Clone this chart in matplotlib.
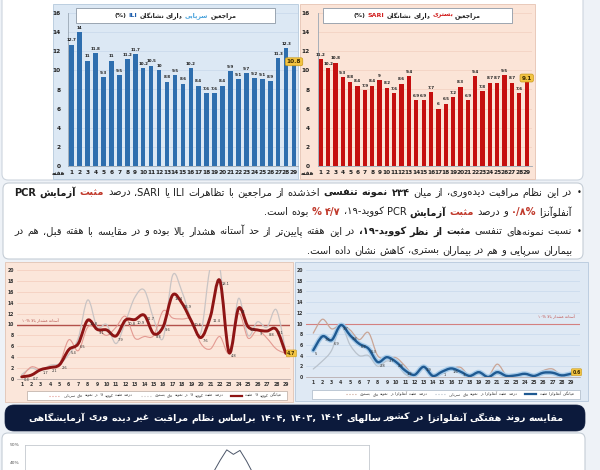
import re
import numpy as np
import matplotlib
matplotlib.use('Agg')
import matplotlib.pyplot as plt
from matplotlib.patches import Rectangle, FancyBboxPatch, PathPatch
from matplotlib.path import Path
from matplotlib.transforms import Affine2D
from matplotlib.lines import Line2D

plt.rcParams['font.family'] = ['DejaVu Sans']

# ---------------- data ----------------
weeks = list(range(1, 30))
ili_values = [12.7, 14, 11, 11.8, 9.3, 11, 9.5, 11.2, 11.7, 10.2, 10.5, 10, 8.8, 9.5, 8.6,
              10.2, 8.4, 7.6, 7.6, 8.4, 9.9, 9.1, 9.7, 9.2, 9.1, 8.9, 11.3, 12.3, 10.8]
sari_values = [11.2, 10.2, 10.8, 9.3, 8.8, 8.4, 7.9, 8.4, 9, 8.2, 7.6, 8.6, 9.4, 6.9, 6.9,
               7.7, 6.0, 6.5, 7.2, 8.3, 6.9, 9.4, 7.8, 8.7, 8.7, 9.5, 8.7, 7.6, 9.1]
bar_yticks = [0, 2, 4, 6, 8, 10, 12, 14, 16]

covid_avg = [0.4, 0.7, 1.7, 2.1, 2.6, 5.4, 6.5, 10.8, 9.1, 9.0, 7.9, 10.8, 10.9, 11.7, 8.3,
             9.6, 15.4, 13.9, 10.6, 7.6, 11.4, 18.1, 4.8, 13.0, 9.6, 9.0, 8.8, 9.1, 4.7]
covid_sari = [0.8, 2.0, 1.5, 2.5, 2.8, 4.5, 7.5, 14.5, 9.5, 10.0, 6.5, 10.5, 15.0, 16.3, 11.0,
              7.5, 19.0, 16.0, 10.8, 8.5, 20.5, 20.5, 5.0, 14.8, 8.0, 10.5, 9.5, 12.7, 5.0]
covid_ili = [0.3, 2.2, 1.8, 2.2, 2.8, 7.2, 5.2, 9.5, 9.2, 8.0, 9.5, 11.5, 7.5, 7.8, 8.0,
             12.5, 11.2, 11.0, 10.8, 6.5, 5.5, 7.8, 4.8, 12.0, 7.5, 9.0, 7.5, 5.5, 4.7]

flu_avg = [5.0, 7.6, 6.9, 9.7, 7.8, 6.2, 5.3, 2.8, 3.7, 2.8, 1.2, 0.4, 1.9, 0.2, 1.0,
           1.6, 1.0, 0.2, 0.9, 0.0, 0.9, 0.2, 0.3, 0.6, 0.2, 0.8, 0.8, 0.3, 0.6]
flu_sari = [8.2, 10.8, 9.0, 9.8, 8.8, 7.0, 8.3, 4.0, 3.5, 3.6, 2.0, 0.2, 2.0, 0.2, 0.8,
            1.5, 1.8, 0.2, 0.8, 0.1, 2.4, 0.3, 0.2, 0.8, 0.2, 1.2, 1.5, 0.3, 0.6]
flu_ili = [1.5, 3.0, 5.0, 9.5, 6.0, 4.0, 4.0, 2.0, 3.0, 2.5, 0.5, 0.0, 1.5, 0.1, 0.6,
           1.4, 0.8, 0.1, 0.6, 0.0, 0.5, 0.1, 0.2, 0.4, 0.1, 0.5, 0.5, 0.2, 0.5]
line_yticks = [0, 2, 4, 6, 8, 10, 12, 14, 16, 18, 20]
threshold = 10

trend_weeks = [27, 28, 29, 30, 31, 32, 33, 34, 35, 36]
trend_1404 = [26, 31, 35, 41.5, 47.3, 44.8, 47.0, 41.0, 34, 28]
trend_yticks = [40, 50]
trend_ylabels = ['40%', '50%']

# ---------------- persian shaping ----------------
FORMS = {
    '\u0621': ('\uFE80',),
    '\u0622': ('\uFE81', '\uFE82'), '\u0623': ('\uFE83', '\uFE84'),
    '\u0624': ('\uFE85', '\uFE86'), '\u0625': ('\uFE87', '\uFE88'),
    '\u0626': ('\uFE89', '\uFE8A', '\uFE8B', '\uFE8C'),
    '\u0627': ('\uFE8D', '\uFE8E'),
    '\u0628': ('\uFE8F', '\uFE90', '\uFE91', '\uFE92'),
    '\u0629': ('\uFE93', '\uFE94'),
    '\u062A': ('\uFE95', '\uFE96', '\uFE97', '\uFE98'),
    '\u062B': ('\uFE99', '\uFE9A', '\uFE9B', '\uFE9C'),
    '\u062C': ('\uFE9D', '\uFE9E', '\uFE9F', '\uFEA0'),
    '\u062D': ('\uFEA1', '\uFEA2', '\uFEA3', '\uFEA4'),
    '\u062E': ('\uFEA5', '\uFEA6', '\uFEA7', '\uFEA8'),
    '\u062F': ('\uFEA9', '\uFEAA'), '\u0630': ('\uFEAB', '\uFEAC'),
    '\u0631': ('\uFEAD', '\uFEAE'), '\u0632': ('\uFEAF', '\uFEB0'),
    '\u0633': ('\uFEB1', '\uFEB2', '\uFEB3', '\uFEB4'),
    '\u0634': ('\uFEB5', '\uFEB6', '\uFEB7', '\uFEB8'),
    '\u0635': ('\uFEB9', '\uFEBA', '\uFEBB', '\uFEBC'),
    '\u0636': ('\uFEBD', '\uFEBE', '\uFEBF', '\uFEC0'),
    '\u0637': ('\uFEC1', '\uFEC2', '\uFEC3', '\uFEC4'),
    '\u0638': ('\uFEC5', '\uFEC6', '\uFEC7', '\uFEC8'),
    '\u0639': ('\uFEC9', '\uFECA', '\uFECB', '\uFECC'),
    '\u063A': ('\uFECD', '\uFECE', '\uFECF', '\uFED0'),
    '\u0641': ('\uFED1', '\uFED2', '\uFED3', '\uFED4'),
    '\u0642': ('\uFED5', '\uFED6', '\uFED7', '\uFED8'),
    '\u0643': ('\uFED9', '\uFEDA', '\uFEDB', '\uFEDC'),
    '\u0644': ('\uFEDD', '\uFEDE', '\uFEDF', '\uFEE0'),
    '\u0645': ('\uFEE1', '\uFEE2', '\uFEE3', '\uFEE4'),
    '\u0646': ('\uFEE5', '\uFEE6', '\uFEE7', '\uFEE8'),
    '\u0647': ('\uFEE9', '\uFEEA', '\uFEEB', '\uFEEC'),
    '\u0648': ('\uFEED', '\uFEEE'),
    '\u0649': ('\uFEEF', '\uFEF0'),
    '\u064A': ('\uFEF1', '\uFEF2', '\uFEF3', '\uFEF4'),
    '\u067E': ('\uFB56', '\uFB57', '\uFB58', '\uFB59'),
    '\u0686': ('\uFB7A', '\uFB7B', '\uFB7C', '\uFB7D'),
    '\u0698': ('\uFB8A', '\uFB8B'),
    '\u06A9': ('\uFB8E', '\uFB8F', '\uFB90', '\uFB91'),
    '\u06AF': ('\uFB92', '\uFB93', '\uFB94', '\uFB95'),
    '\u06CC': ('\uFBFC', '\uFBFD', '\uFBFE', '\uFBFF'),
}
LAMALEF = {'\u0627': ('\uFEFB', '\uFEFC'), '\u0622': ('\uFEF5', '\uFEF6'),
           '\u0623': ('\uFEF7', '\uFEF8'), '\u0625': ('\uFEF9', '\uFEFA')}
MIRROR = str.maketrans('()[]', ')(][')


def jtype(c):
    f = FORMS.get(c)
    if f is None:
        return None
    return {1: 'U', 2: 'R', 4: 'D'}[len(f)]


def shape(s):
    out = []
    n = len(s)
    i = 0
    while i < n:
        c = s[i]
        f = FORMS.get(c)
        if f is None:
            out.append(c)
            i += 1
            continue
        jp = i > 0 and jtype(s[i - 1]) == 'D' and len(f) > 1
        if c == '\u0644' and i + 1 < n and s[i + 1] in LAMALEF:
            iso, fin = LAMALEF[s[i + 1]]
            out.append(fin if jp else iso)
            i += 2
            continue
        jn = len(f) == 4 and i + 1 < n and jtype(s[i + 1]) in ('D', 'R')
        if len(f) == 1:
            out.append(f[0])
        elif jp and jn:
            out.append(f[3])
        elif jp:
            out.append(f[1])
        elif jn:
            out.append(f[2])
        else:
            out.append(f[0])
        i += 1
    return ''.join(ch for ch in out if ch != '\u200c')


LTR_RE = re.compile(r'[A-Za-z0-9\u06F0-\u06F9][A-Za-z0-9\u06F0-\u06F9/.%\-]*')


def visual(s):
    tokens = re.findall(r'[A-Za-z0-9\u06F0-\u06F9][A-Za-z0-9\u06F0-\u06F9/.%\-]*|[^A-Za-z0-9\u06F0-\u06F9]+', s)
    out = []
    for t in reversed(tokens):
        if LTR_RE.fullmatch(t):
            out.append(t)
        else:
            out.append(shape(t)[::-1].translate(MIRROR))
    return ''.join(out)


# ---------------- figure ----------------
W, H = 600, 470
fig = plt.figure(figsize=(6.0, 4.7), dpi=100)
fig.patch.set_facecolor('#eef2f7')
PX = Affine2D().scale(1, -1).translate(0, H)
renderer = fig.canvas.get_renderer()


def axpx(x, y, w, h):
    return fig.add_axes([x / W, 1 - (y + h) / H, w / W, h / H])


def rect(x, y, w, h, fc, ec='none', lw=0.6, r=0, z=-1):
    if r > 0:
        p = FancyBboxPatch((x, y), w, h, boxstyle=f"round,pad=0,rounding_size={r}",
                           fc=fc, ec=ec, lw=lw, transform=PX, zorder=z)
    else:
        p = Rectangle((x, y), w, h, fc=fc, ec=ec, lw=lw, transform=PX, zorder=z)
    fig.add_artist(p)
    return p


def hline_px(x1, x2, y, color, lw, ls='-', z=6):
    fig.add_artist(Line2D([x1, x2], [y, y], color=color, lw=lw, ls=ls, transform=PX, zorder=z))


def words_of(segs):
    res = []
    for s, w, c in segs:
        for wd in s.split(' '):
            if wd:
                res.append((wd, w, c))
    return res


def measure(segs, fs):
    ws = []
    for wd, w, c in words_of(segs):
        t = fig.text(0, 0, visual(wd), fontsize=fs, fontweight=w, transform=PX)
        ws.append(t.get_window_extent(renderer).width)
        t.remove()
    sp = fs * 100 / 72 * 0.32
    return sum(ws) + sp * (len(ws) - 1)


def place_rtl(segs, y, fs, xr=None, center=None, width=None, z=8):
    words = words_of(segs)
    ts, ws = [], []
    for wd, w, c in words:
        t = fig.text(0, y, visual(wd), fontsize=fs, fontweight=w, color=c,
                     transform=PX, ha='left', va='center', zorder=z)
        ts.append(t)
        ws.append(t.get_window_extent(renderer).width)
    sp = fs * 100 / 72 * 0.32
    total = sum(ws) + sp * (len(ws) - 1)
    if width is not None and len(ws) > 1:
        sp = (width - sum(ws)) / (len(ws) - 1)
        total = width
    if center is not None:
        xr = center + total / 2
    x = xr
    for t, w in zip(ts, ws):
        x -= w
        t.set_x(x)
        x -= sp
    return xr - total


def fit_fs(segs, target, fs0=10):
    return fs0 * target / measure(segs, fs0)


# ---------------- backgrounds / cards ----------------
rect(2, -10, 581, 190, '#ffffff', ec='#cdd5de', lw=0.8, r=6, z=-3)
rect(3, 183, 580, 76, '#ffffff', ec='#c5cdd6', lw=0.8, r=6, z=-3)
rect(2, 433, 583, 60, '#ffffff', ec='#c5cdd6', lw=0.8, r=6, z=-3)

rect(53, 4, 245, 175, '#dce8f4', ec='#b4c8dc', lw=0.6, z=-2)
rect(300, 4, 235, 175, '#fbe4d7', ec='#e6c3b2', lw=0.6, z=-2)
rect(5, 262, 288, 140, '#fbe6da', ec='#e2c4b4', lw=0.6, z=-2)
rect(295, 262, 293, 139, '#dfe9f4', ec='#b7c9dc', lw=0.6, z=-2)

DARK = '#1e1e1e'


# ---------------- top bar charts ----------------
def bar_chart(axrect, xlim, values, color, grid_color, pad_y, last_label):
    ax = axpx(*axrect)
    ax.set_facecolor('none')
    ax.bar(weeks, values, width=0.58, color=color, zorder=2)
    ax.set_xlim(*xlim)
    ax.set_ylim(0, 16)
    ax.set_yticks(bar_yticks)
    ax.set_xticks(weeks)
    ax.tick_params(length=0, labelsize=4.2, pad=3.2, colors='#222222')
    ax.tick_params(axis='y', pad=pad_y)
    for lab in ax.get_xticklabels() + ax.get_yticklabels():
        lab.set_fontweight('bold')
    for yv in bar_yticks[1:]:
        ax.axhline(yv, color=grid_color, lw=0.5, zorder=0)
    for s in ['top', 'right']:
        ax.spines[s].set_visible(False)
    for s in ['left', 'bottom']:
        ax.spines[s].set_color('#9aa7b4')
        ax.spines[s].set_linewidth(0.6)
    for wk, v in zip(weeks[:-1], values[:-1]):
        ax.text(wk, v + 0.25, f'{v:g}', ha='center', va='bottom', fontsize=2.9,
                fontweight='bold', color=DARK, zorder=3)
    ax.text(weeks[-1], values[-1] + 0.1, last_label, ha='center', va='center', fontsize=4.2,
            fontweight='bold', color='#3a2a00', zorder=4, clip_on=False,
            bbox=dict(boxstyle='round,pad=0.25,rounding_size=0.3', fc='#f3c442', ec='#c99a1a', lw=0.5))
    return ax


ax1 = bar_chart((68, 13, 230, 153), (0.53, 29.5), ili_values, '#2e6eae', '#c7d8ea', 5.2, '10.8')
ax2 = bar_chart((318, 13, 214, 153), (0.633, 29.72), sari_values, '#c50f0f', '#f2cfc0', 6.2, '9.1')

fig.text(58, 173.5, visual('هفته'), fontsize=4, fontweight='bold', color=DARK,
         transform=PX, ha='center', va='center', zorder=8)
fig.text(307, 173.5, visual('هفته'), fontsize=4, fontweight='bold', color=DARK,
         transform=PX, ha='center', va='center', zorder=8)

rect(76, 8, 199, 15, '#ffffff', ec='#8d99a6', lw=0.6, z=2)
rect(323, 8, 189, 15, '#ffffff', ec='#8d99a6', lw=0.6, z=2)
title_ili = [('مراجعین', 'bold', DARK), ('سرپایی', 'bold', '#4aa3dc'),
             ('دارای نشانگان', 'bold', DARK), ('ILI', 'bold', '#1f5fae'), ('(%)', 'bold', DARK)]
title_sari = [('مراجعین', 'bold', DARK), ('بستری', 'bold', '#d21f1f'),
              ('دارای نشانگان', 'bold', DARK), ('SARI', 'bold', '#d21f1f'), ('(%)', 'bold', DARK)]
fs_t = fit_fs(title_ili, 122)
place_rtl(title_ili, 15.5, fs_t, center=175.5)
place_rtl(title_sari, 15.5, fs_t, center=417.5)

# ---------------- bullet text ----------------
b1l1 = [('در این نظام مراقبت دیده\u200cوری، از میان', 'normal', DARK), ('۲۳۴ نمونه تنفسی', 'bold', DARK),
        ('اخذشده از مراجعین با تظاهرات ILI یا SARI، درصد', 'normal', DARK),
        ('مثبت', 'bold', '#c0392b'), ('آزمایش PCR', 'bold', DARK)]
b1l2 = [('آنفلوآنزا', 'normal', DARK), ('۰/۸%', 'bold', '#c0392b'), ('و درصد', 'normal', DARK),
        ('مثبت', 'bold', '#c0392b'), ('آزمایش', 'bold', DARK), ('PCR کووید-۱۹،', 'normal', DARK),
        ('۴/۷ %', 'bold', '#c0392b'), ('بوده است.', 'normal', DARK)]
b2l1 = [('نسبت نمونه\u200cهای تنفسی', 'normal', DARK), ('مثبت از نظر کووید-۱۹،', 'bold', DARK),
        ('در این هفته پایین\u200cتر از حد آستانه هشدار بالا بوده و در مقایسه با هفته قبل، هم در', 'normal', DARK)]
b2l2 = [('بیماران سرپایی و هم در بیماران بستری، کاهش نشان داده است.', 'normal', DARK)]

fs_b = min(fit_fs(b1l1, 548), fit_fs(b2l1, 548))
place_rtl(b1l1, 192.5, fs_b, xr=572, width=558)
place_rtl(b1l2, 212, fs_b, xr=572)
place_rtl(b2l1, 231.5, fs_b, xr=572, width=558)
place_rtl(b2l2, 250.5, fs_b, xr=572)
for yb in (192.5, 231.5):
    fig.text(579, yb, '•', fontsize=6, color=DARK, transform=PX, ha='center', va='center', zorder=8)


# ---------------- line charts ----------------
def smooth_path(x, y):
    pts = np.column_stack([x, y]).astype(float)
    n = len(pts)
    verts = [pts[0]]
    codes = [Path.MOVETO]
    for i in range(n - 1):
        p0 = pts[i - 1] if i > 0 else pts[i]
        p1, p2 = pts[i], pts[i + 1]
        p3 = pts[i + 2] if i + 2 < n else pts[i + 1]
        verts += [p1 + (p2 - p0) / 6, p2 - (p3 - p1) / 6, p2]
        codes += [Path.CURVE4] * 3
    return Path(verts, codes)


def smooth(ax, x, y, color, lw, z=3, alpha=1.0):
    ax.add_patch(PathPatch(smooth_path(x, y), fill=False, ec=color, lw=lw, zorder=z,
                           alpha=alpha, capstyle='round', joinstyle='round'))


def line_axes(axrect, xlim, grid_color):
    ax = axpx(*axrect)
    ax.set_facecolor('none')
    ax.set_xlim(*xlim)
    ax.set_ylim(0, 20)
    ax.set_yticks(line_yticks)
    ax.set_xticks(weeks)
    ax.tick_params(length=0, labelsize=3.3, pad=2.2, colors='#333333')
    for lab in ax.get_xticklabels() + ax.get_yticklabels():
        lab.set_fontweight('bold')
    for yv in line_yticks[1:]:
        ax.axhline(yv, color=grid_color, lw=0.5, zorder=0)
    for s in ['top', 'right', 'left']:
        ax.spines[s].set_visible(False)
    ax.spines['bottom'].set_color('#b0a0a0')
    ax.spines['bottom'].set_linewidth(0.5)
    return ax


ax3 = line_axes((17, 270, 273, 109), (0.50, 29.45), '#f3cbbb')
ax3.axhline(threshold, color='#b3514b', lw=1.0, zorder=2)
smooth(ax3, weeks, covid_sari, '#c9c4c4', 0.9)
smooth(ax3, weeks, covid_ili, '#e39a92', 0.8)
smooth(ax3, weeks, covid_avg, '#8e1414', 2.1, z=4)
for wk, v in zip(weeks[:-1], covid_avg[:-1]):
    ax3.text(wk + 0.2, v - 0.3, f'{v:g}', fontsize=2.6, color='#333333', ha='left', va='top', zorder=5)
ax3.text(weeks[-1] + 0.15, covid_avg[-1], f'{covid_avg[-1]:g}', fontsize=3.3, fontweight='bold',
         ha='left', va='center', color='#3a2a00', zorder=6, clip_on=False,
         bbox=dict(boxstyle='round,pad=0.2,rounding_size=0.2', fc='#f3c442', ec='#c99a1a', lw=0.4))
fig.text(40, 321, visual('آستانه هشدار بالا ۱۰%'), fontsize=2.8, color='#b3514b',
         transform=PX, ha='center', va='center', zorder=8)

ax4 = line_axes((306, 270, 274, 107), (0.21, 29.99), '#c8d9ec')
ax4.axhline(threshold, color='#d48080', lw=0.8, zorder=2)
smooth(ax4, weeks, flu_ili, '#b9c2cc', 0.9)
smooth(ax4, weeks, flu_sari, '#c9a596', 0.9)
smooth(ax4, weeks, flu_avg, '#a7cbe9', 3.6, z=3)
smooth(ax4, weeks, flu_avg, '#1f5a92', 1.7, z=4)
for wk, v in zip(weeks[:-1], flu_avg[:-1]):
    if v >= 1.0:
        ax4.text(wk + 0.2, v - 0.3, f'{v:g}', fontsize=2.6, color='#333333', ha='left', va='top', zorder=5)
ax4.text(weeks[-1] + 0.15, flu_avg[-1] + 0.3, f'{flu_avg[-1]:g}', fontsize=3.3, fontweight='bold',
         ha='left', va='center', color='#3a2a00', zorder=6, clip_on=False,
         bbox=dict(boxstyle='round,pad=0.2,rounding_size=0.2', fc='#f3c442', ec='#c99a1a', lw=0.4))
fig.text(556, 317, visual('آستانه هشدار بالا ۱۰%'), fontsize=2.8, color='#c0504d',
         transform=PX, ha='center', va='center', zorder=8)

rect(27, 391, 260, 9, '#ffffff', ec='#b9a9a0', lw=0.5, z=2)
rect(312, 389.5, 268, 9, '#ffffff', ec='#a9b7c6', lw=0.5, z=2)


def legend_row(entries, xr, y, fs):
    x = xr
    for label, color, lw, ls in entries:
        left = place_rtl([(label, 'normal', '#333333')], y, fs, xr=x)
        hline_px(left - 14, left - 3, y, color, lw, ls)
        x = left - 22


legend_covid = [('میانگین کووید ۱۹ مثبت', '#8e1414', 1.6, '-'),
                ('درصد مثبت کووید ۱۹ در نمونه های بستری', '#c9c4c4', 0.8, ':'),
                ('درصد مثبت کووید ۱۹ در نمونه های سرپایی', '#e39a92', 0.8, ':')]
legend_flu = [('میانگین آنفلوانزا مثبت', '#1f5a92', 1.6, '-'),
              ('درصد مثبت آنفلوانزا در نمونه های سرپایی', '#b9c2cc', 0.8, ':'),
              ('درصد مثبت آنفلوانزا در نمونه های بستری', '#c9a596', 0.8, ':')]
legend_row(legend_covid, 282, 395.5, 2.8)
legend_row(legend_flu, 575, 394, 2.8)

# ---------------- banner ----------------
rect(5, 405, 580, 26, '#0c1a3c', ec='#0c1a3c', lw=0.5, r=9, z=-1)
banner = [('مقایسه روند هفتگی آنفلوانزا در کشور سالهای ۱۴۰۲ ,۱۴۰۳ ,۱۴۰۴ براساس نظام مراقبت غیر دیده وری آزمایشگاهی',
           'bold', '#ffffff')]
fs_bn = fit_fs(banner, 535)
place_rtl(banner, 418, fs_bn, center=296)

# ---------------- bottom trend chart ----------------
ax5 = axpx(25, 445, 344, 36)
ax5.set_facecolor('none')
ax5.set_xlim(0.5, 52.5)
ax5.set_ylim(30, 50)
ax5.plot(trend_weeks, trend_1404, color='#4b5568', lw=0.7)
ax5.set_yticks(trend_yticks)
ax5.set_yticklabels(trend_ylabels)
ax5.set_xticks([])
ax5.tick_params(length=0, labelsize=3.2, pad=4, colors='#555555')
for s in ax5.spines.values():
    s.set_color('#c4c9cf')
    s.set_linewidth(0.6)

fig.savefig('out.png', dpi=100, facecolor=fig.get_facecolor())
